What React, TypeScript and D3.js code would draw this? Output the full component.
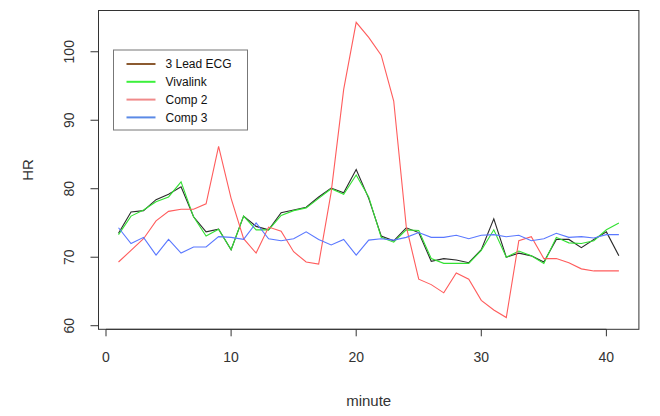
import * as d3 from "d3";

const minutes = [1, 2, 3, 4, 5, 6, 7, 8, 9, 10, 11, 12, 13, 14, 15, 16, 17, 18, 19, 20, 21, 22, 23, 24, 25, 26, 27, 28, 29, 30, 31, 32, 33, 34, 35, 36, 37, 38, 39, 40, 41];

const ecg = [73.5, 76.6, 76.8, 78.4, 79.2, 80.3, 75.9, 73.7, 74.1, 71.1, 76.0, 74.5, 74.0, 76.5, 76.9, 77.3, 78.8, 80.1, 79.4, 82.8, 78.6, 73.1, 72.4, 74.3, 73.6, 69.4, 69.8, 69.6, 69.2, 71.1, 75.6, 70.0, 70.6, 70.2, 69.3, 72.6, 72.6, 71.4, 72.6, 73.7, 70.2];
const vivalink = [73.3, 76.0, 76.9, 78.1, 78.8, 81.0, 75.9, 73.1, 74.1, 71.1, 76.0, 74.0, 74.0, 76.1, 76.8, 77.2, 78.6, 80.0, 79.2, 82.0, 78.8, 72.9, 72.2, 74.0, 73.9, 69.8, 69.1, 69.1, 69.1, 71.0, 74.0, 70.0, 70.9, 70.2, 69.1, 72.9, 72.1, 72.0, 72.4, 74.0, 75.0];
const comp2 = [69.3, 71.0, 72.7, 75.3, 76.7, 77.0, 77.0, 77.8, 86.2, 78.6, 72.7, 70.6, 74.4, 73.8, 70.8, 69.3, 69.0, 79.5, 94.5, 104.3, 102.1, 99.5, 92.8, 74.5, 66.8, 66.0, 64.8, 67.7, 66.8, 63.7, 62.3, 61.2, 72.4, 73.0, 69.8, 69.8, 69.2, 68.3, 68.0, 68.0, 68.0];
const comp3 = [74.3, 72.0, 72.9, 70.3, 72.6, 70.6, 71.5, 71.5, 73.0, 72.9, 72.6, 75.0, 72.7, 72.4, 72.7, 73.7, 72.6, 71.8, 72.6, 70.3, 72.5, 72.7, 72.5, 72.9, 73.6, 72.9, 72.9, 73.2, 72.7, 73.2, 73.3, 73.0, 73.2, 72.4, 72.7, 73.5, 72.9, 73.0, 72.8, 73.3, 73.3];

const xTicks = [0, 10, 20, 30, 40];
const yTicks = [60, 70, 80, 90, 100];

const seriesNames = ["3 Lead ECG", "Vivalink", "Comp 2", "Comp 3"];
const lineColors = ["#2a2a2a", "#33e033", "#ff5c5c", "#5a78ff"];
const legendColors = ["#8b5a30", "#3cf03c", "#f08a8a", "#5b8ae6"];

export default function App() {
  const width = 660;
  const height = 416;
  const left = 98.5, right = 638.9, top = 10.5, bottom = 329.3;
  const font = "'Liberation Sans', Arial, Helvetica, sans-serif";

  const series = [ecg, vivalink, comp2, comp3];

  // R style: 4% padding around data range
  const [xmin, xmax] = d3.extent(minutes) as [number, number];
  const xpad = (xmax - xmin) * 0.04;
  const allVals = series.flat();
  const [ymin, ymax] = d3.extent(allVals) as [number, number];
  const ypad = (ymax - ymin) * 0.04;

  const x = d3.scaleLinear().domain([xmin - xpad, xmax + xpad]).range([left, right]);
  const y = d3.scaleLinear().domain([ymin - ypad, ymax + ypad]).range([bottom, top]);

  const line = d3.line<number>()
    .x((_, i) => x(minutes[i]))
    .y(d => y(d));

  const legX = 113.5, legY = 50, legW = 134, legH = 80;

  return (
    <svg width={width} height={height} style={{ position: "absolute", left: 0, top: 0, background: "#fff" }}>
      {series.map((s, i) => (
        <path key={i} d={line(s) || ""} fill="none" stroke={lineColors[i]} strokeWidth={1.1} />
      ))}

      <rect x={left} y={top} width={right - left} height={bottom - top} fill="none" stroke="#333" strokeWidth={1} />

      {/* x axis */}
      <line x1={x(xTicks[0])} x2={x(xTicks[xTicks.length - 1])} y1={bottom} y2={bottom} stroke="#333" />
      {xTicks.map(t => (
        <g key={t}>
          <line x1={x(t)} x2={x(t)} y1={bottom} y2={bottom + 7} stroke="#333" />
          <text x={x(t)} y={bottom + 33} textAnchor="middle" fontFamily={font} fontSize={14} fill="#333">{t}</text>
        </g>
      ))}

      {/* y axis */}
      <line x1={left} x2={left} y1={y(yTicks[0])} y2={y(yTicks[yTicks.length - 1])} stroke="#333" />
      {yTicks.map(t => (
        <g key={t}>
          <line x1={left - 8} x2={left} y1={y(t)} y2={y(t)} stroke="#333" />
          <text transform={`translate(${left - 25},${y(t)}) rotate(-90)`} textAnchor="middle" fontFamily={font} fontSize={14} fill="#333">{t}</text>
        </g>
      ))}

      <text x={(left + right) / 2} y={406} textAnchor="middle" fontFamily={font} fontSize={15} fill="#333">minute</text>
      <text transform={`translate(33,${(top + bottom) / 2}) rotate(-90)`} textAnchor="middle" fontFamily={font} fontSize={15} fill="#333">HR</text>

      {/* legend */}
      <rect x={legX} y={legY} width={legW} height={legH} fill="#fff" stroke="#777" strokeWidth={1} />
      {seriesNames.map((name, i) => {
        const ry = legY + 14 + i * 17.8;
        return (
          <g key={name}>
            <line x1={legX + 13} x2={legX + 42} y1={ry} y2={ry} stroke={legendColors[i]} strokeWidth={2} />
            <text x={legX + 52} y={ry + 4.3} fontFamily={font} fontSize={12} fill="#111">{name}</text>
          </g>
        );
      })}
    </svg>
  );
}
